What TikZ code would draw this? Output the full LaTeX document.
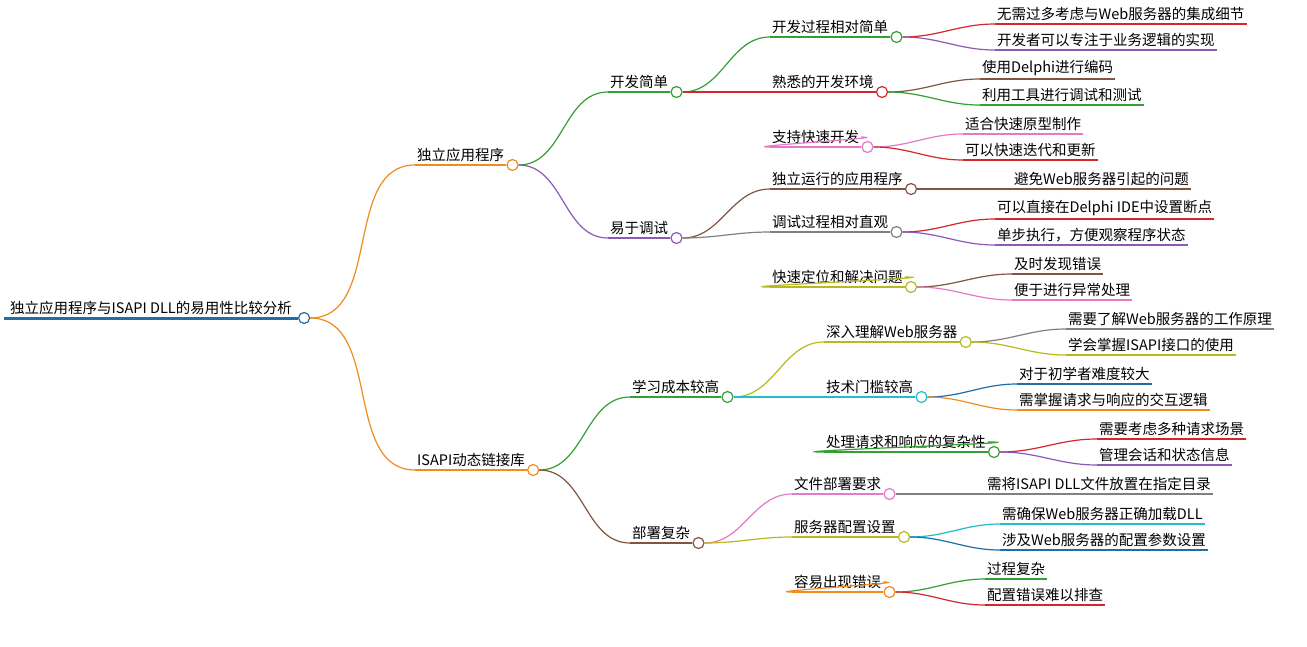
\documentclass[tikz,border=0pt]{standalone}
\usepackage{fontspec}
\setmainfont{Noto Sans CJK SC}
\usetikzlibrary{positioning}
\definecolor{clrOrange}{RGB}{240,140,30}
\definecolor{clrGreen}{RGB}{50,160,50}
\definecolor{clrPurple}{RGB}{140,90,180}
\definecolor{clrBrown}{RGB}{130,85,65}
\definecolor{clrRed}{RGB}{210,40,45}
\definecolor{clrPink}{RGB}{230,120,200}
\definecolor{clrGray}{RGB}{128,128,128}
\definecolor{clrOlive}{RGB}{185,185,30}
\definecolor{clrCyan}{RGB}{30,190,205}
\definecolor{clrBlue}{RGB}{30,110,170}
\tikzset{
  mmtext/.style={anchor=south west, inner xsep=2pt, inner ysep=3pt, font=\fontsize{14.5}{16}\selectfont},
  mmline/.style={line width=1.2pt},
  mmdot/.style={circle, fill=white, line width=1.2pt, minimum size=11pt, inner sep=0pt, anchor=west},
}
% node with circle: name, parent, x, y, colour, text
\newcommand\mmnode[6]{%
  \node[mmtext] (#1) at (#3,#4) {#6};
  \draw[#5, mmline] (#1.south west) -- (#1.south east);
  \draw[#5, mmline] (#2.east) to[out=0, in=180] (#1.south west);
  \node[mmdot, draw=#5] (#1c) at (#1.south east) {};
}
% leaf: name, parent, x, y, colour, text
\newcommand\mmleaf[6]{%
  \node[mmtext] (#1) at (#3,#4) {#6};
  \draw[#5, mmline] (#1.south west) -- (#1.south east);
  \draw[#5, mmline] (#2.east) to[out=0, in=180] (#1.south west);
}
\begin{document}
\begin{tikzpicture}[x=1pt, y=-1pt]
  \useasboundingbox[fill=white] (0,0) rectangle (1307,646);

  % root
  \node[mmtext, inner xsep=6pt] (root) at (4,318) {独立应用程序与ISAPI DLL的易用性比较分析};
  \draw[clrBlue, line width=3pt] (root.south west) -- (root.south east);
  \node[mmdot, draw=clrBlue] (rootc) at (root.south east) {};

  % first level
  \mmnode{a}{rootc}{415}{165}{clrOrange}{独立应用程序}
  \mmnode{b}{rootc}{415}{470}{clrOrange}{ISAPI动态链接库}

  % second level
  \mmnode{aa}{ac}{608}{92}{clrGreen}{开发简单}
  \mmnode{ab}{ac}{608}{238}{clrPurple}{易于调试}
  \mmnode{ba}{bc}{630}{397}{clrGreen}{学习成本较高}
  \mmnode{bb}{bc}{630}{543}{clrBrown}{部署复杂}

  % third level
  \mmnode{aaa}{aac}{770}{37}{clrGreen}{开发过程相对简单}
  \mmnode{aab}{aac}{770}{92}{clrRed}{熟悉的开发环境}
  \mmnode{aac}{aac}{770}{147}{clrPink}{支持快速开发}
  \mmnode{aba}{abc}{770}{189}{clrBrown}{独立运行的应用程序}
  \mmnode{abb}{abc}{770}{232}{clrGray}{调试过程相对直观}
  \mmnode{abc}{abc}{770}{287}{clrOlive}{快速定位和解决问题}
  \mmnode{baa}{bac}{824}{342}{clrOlive}{深入理解Web服务器}
  \mmnode{bab}{bac}{824}{397}{clrCyan}{技术门槛较高}
  \mmnode{bac}{bac}{824}{452}{clrGreen}{处理请求和响应的复杂性}
  \mmnode{bba}{bbc}{792}{494}{clrPink}{文件部署要求}
  \mmnode{bbb}{bbc}{792}{537}{clrOlive}{服务器配置设置}
  \mmnode{bbc}{bbc}{792}{592}{clrOrange}{容易出现错误}

  % leaves
  \mmleaf{aaa1}{aaac}{995}{24}{clrRed}{无需过多考虑与Web服务器的集成细节}
  \mmleaf{aaa2}{aaac}{995}{50}{clrPurple}{开发者可以专注于业务逻辑的实现}
  \mmleaf{aab1}{aabc}{980}{79}{clrBrown}{使用Delphi进行编码}
  \mmleaf{aab2}{aabc}{980}{105}{clrGreen}{利用工具进行调试和测试}
  \mmleaf{aac1}{aacc}{963}{134}{clrPink}{适合快速原型制作}
  \mmleaf{aac2}{aacc}{963}{160}{clrRed}{可以快速迭代和更新}
  \mmleaf{aba1}{abac}{1012}{189}{clrBrown}{避免Web服务器引起的问题}
  \mmleaf{abb1}{abbc}{995}{219}{clrRed}{可以直接在Delphi IDE中设置断点}
  \mmleaf{abb2}{abbc}{995}{245}{clrPurple}{单步执行，方便观察程序状态}
  \mmleaf{abc1}{abcc}{1012}{274}{clrBrown}{及时发现错误}
  \mmleaf{abc2}{abcc}{1012}{300}{clrPink}{便于进行异常处理}
  \mmleaf{baa1}{baac}{1066}{329}{clrGray}{需要了解Web服务器的工作原理}
  \mmleaf{baa2}{baac}{1066}{355}{clrOlive}{学会掌握ISAPI接口的使用}
  \mmleaf{bab1}{babc}{1017}{384}{clrBlue}{对于初学者难度较大}
  \mmleaf{bab2}{babc}{1017}{410}{clrOrange}{需掌握请求与响应的交互逻辑}
  \mmleaf{bac1}{bacc}{1097}{439}{clrRed}{需要考虑多种请求场景}
  \mmleaf{bac2}{bacc}{1097}{465}{clrPurple}{管理会话和状态信息}
  \mmleaf{bba1}{bbac}{985}{494}{clrGray}{需将ISAPI DLL文件放置在指定目录}
  \mmleaf{bbb1}{bbbc}{1000}{524}{clrCyan}{需确保Web服务器正确加载DLL}
  \mmleaf{bbb2}{bbbc}{1000}{550}{clrBlue}{涉及Web服务器的配置参数设置}
  \mmleaf{bbc1}{bbcc}{985}{579}{clrGreen}{过程复杂}
  \mmleaf{bbc2}{bbcc}{985}{605}{clrRed}{配置错误难以排查}
\end{tikzpicture}
\end{document}
